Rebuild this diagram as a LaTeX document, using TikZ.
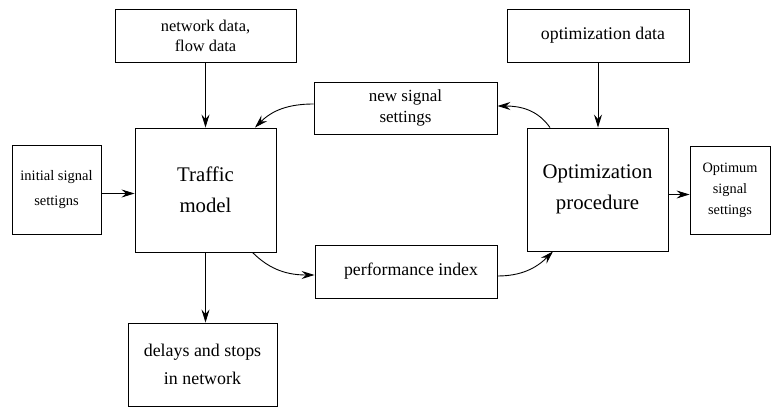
\documentclass[tikz,border=0pt]{standalone}
\usepackage{fontspec}
\setmainfont{Liberation Serif}
\usetikzlibrary{arrows.meta}
\begin{document}
\begin{tikzpicture}[x=1pt,y=1pt,
  box/.style={draw, line width=0.9pt, rectangle, align=center, inner sep=0pt},
  arr/.style={line width=0.9pt, -{Stealth[length=13pt,width=8pt,inset=4.5pt]}},
  bigtext/.style={font=\fontsize{20.8}{30.5}\selectfont},
  midtext/.style={font=\fontsize{17.8}{22}\selectfont},
  smalltext/.style={font=\fontsize{14.4}{22}\selectfont}]
\useasboundingbox (0,0) rectangle (771,407);

% input and output boxes
\node[box, minimum width=181pt, minimum height=53pt,
      font=\fontsize{16.4}{20}\selectfont] (net) at (205.5,371.5) {network data,\\flow data};
\node[box, midtext, minimum width=182pt, minimum height=53pt] (optd) at (598,371.5) {\hspace*{10pt}optimization data};
\node[box, minimum width=183pt, minimum height=52pt,
      font=\fontsize{17}{21}\selectfont] (newsig) at (405.5,299) {new signal\\settings};
\node[box, minimum width=89pt, minimum height=89pt,
      font=\fontsize{14.5}{25}\selectfont] (init) at (56.5,217.5) {initial signal\\settigns};
\node[box, minimum width=80pt, minimum height=88pt,
      font=\fontsize{14.3}{21}\selectfont] (optimum) at (730,217) {Optimum\\signal\\settings};
\node[box, midtext, minimum width=182pt, minimum height=53pt] (perf) at (406,135.5) {\hspace*{10pt}performance index};
\node[box, minimum width=149pt, minimum height=83pt,
      font=\fontsize{17.9}{28}\selectfont] (delays) at (202.5,42.5) {delays and stops\\in network};

% main blocks
\node[box, bigtext, minimum width=141pt, minimum height=124pt] (traffic) at (205.5,217) {Traffic\\model};
\node[box, bigtext, minimum width=141pt, minimum height=123pt] (opt) at (597.5,217.5) {Optimization\\procedure};

% straight connectors
\draw[arr] (net.south) -- (net.south |- traffic.north);
\draw[arr] (optd.south) -- (optd.south |- opt.north);
\draw[arr] ([yshift=-4pt]init.east) -- ([yshift=-4pt]init.east -| traffic.west);
\draw[arr] ([yshift=-5pt]opt.east) -- ([yshift=-5pt]opt.east -| optimum.west);
\draw[arr] (traffic.south) -- (traffic.south |- delays.north);

% curved loop connectors
\draw[arr] ([yshift=4pt]newsig.west) to[out=180, in=45] ([xshift=49.5pt]traffic.north);
\draw[arr] ([xshift=-47.5pt]opt.north) to[out=125, in=0] ([yshift=2pt]newsig.east);
\draw[arr] ([xshift=47pt]traffic.south) to[out=-45, in=180] ([yshift=-3.5pt]perf.west);
\draw[arr] ([yshift=-4.5pt]perf.east) to[out=0, in=-135] ([xshift=-44.5pt]opt.south);
\end{tikzpicture}
\end{document}
